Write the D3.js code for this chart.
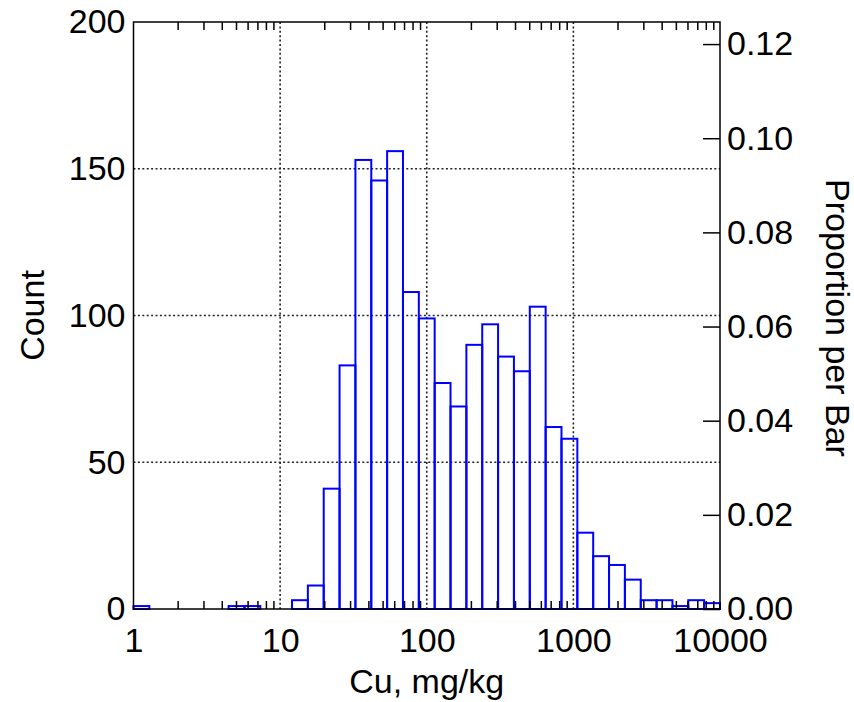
<!DOCTYPE html>
<html>
<head>
<meta charset="utf-8">
<script src="https://cdn.jsdelivr.net/npm/d3@7"></script>
<style>
  body { margin: 0; background: #fff; }
  text { font-family: "Liberation Sans", Arial, sans-serif; }
</style>
</head>
<body>
<div id="chart"></div>
<script>
// 37 equal bins on log10 scale from 1 to 10000
let nBins = 37
let logMin = 0
let logMax = 4
let counts = [1,0,0,0,0,0,1,1,0,0,3,8,41,83,153,146,156,108,99,77,69,90,97,86,81,103,62,58,26,18,15,10,3,3,1,3,2]

let xMajor = [1, 10, 100, 1000, 10000]
let xGrid = [10, 100, 1000]
let yTicks = [0, 50, 100, 150, 200]
let yGrid = [50, 100, 150]
let propTicks = [0, 0.02, 0.04, 0.06, 0.08, 0.10, 0.12]

let total = d3.sum(counts)
let edges = d3.range(nBins + 1).map(k => Math.pow(10, logMin + k * (logMax - logMin) / nBins))
let bins = counts.map((c, i) => ({lo: edges[i], hi: edges[i + 1], count: c}))

let xMinor = []
xMajor.slice(0, -1).forEach(d => { for (let m = 2; m <= 9; m++) xMinor.push(d * m) })

let W = 854, H = 702
let pLeft = 133.5, pRight = 720, pTop = 22, pBottom = 609

let svg = d3.select("#chart").append("svg")
  .attr("width", W)
  .attr("height", H)

let x = d3.scaleLog().domain([1, 10000]).range([pLeft, pRight])
let y = d3.scaleLinear().domain([0, 200]).range([pBottom, pTop])
let yProp = d3.scaleLinear().domain([0, 200 / total]).range([pBottom, pTop])

let fontSize = 34

// grid lines
svg.selectAll(".gx").data(xGrid).enter().append("line")
  .attr("x1", d => x(d)).attr("x2", d => x(d))
  .attr("y1", pTop).attr("y2", pBottom)
  .style("stroke", "#222").style("stroke-width", 1.6).style("stroke-dasharray", "2,2.4")

svg.selectAll(".gy").data(yGrid).enter().append("line")
  .attr("x1", pLeft).attr("x2", pRight)
  .attr("y1", d => y(d)).attr("y2", d => y(d))
  .style("stroke", "#222").style("stroke-width", 1.6).style("stroke-dasharray", "2,2.4")

// bars
svg.selectAll(".bar").data(bins).enter().append("rect")
  .attr("x", d => x(d.lo))
  .attr("y", d => y(d.count))
  .attr("width", d => x(d.hi) - x(d.lo))
  .attr("height", d => y(0) - y(d.count))
  .style("fill", "none")
  .style("stroke", "#0000ff")
  .style("stroke-width", 2)

function styleAxis(g) {
  g.select(".domain").remove()
  g.selectAll("line").style("stroke", "#000").style("stroke-width", 1.5)
  g.selectAll("text").style("font-size", fontSize + "px").style("fill", "#000")
    .style("font-family", "'Liberation Sans', Arial, sans-serif")
}

// bottom axis: labels + minor ticks pointing in
svg.append("g").attr("transform", `translate(0,${pBottom})`)
  .call(d3.axisBottom(x).tickValues(xMajor).tickFormat(d3.format("d")).tickSize(0).tickPadding(19))
  .call(styleAxis)
svg.append("g").attr("transform", `translate(0,${pBottom})`)
  .call(d3.axisBottom(x).tickValues(xMinor).tickFormat("").tickSizeInner(-8).tickSizeOuter(0))
  .call(styleAxis)

// top axis: minor ticks pointing in
svg.append("g").attr("transform", `translate(0,${pTop})`)
  .call(d3.axisTop(x).tickValues(xMinor).tickFormat("").tickSizeInner(-8).tickSizeOuter(0))
  .call(styleAxis)

// left axis
svg.append("g").attr("transform", `translate(${pLeft},0)`)
  .call(d3.axisLeft(y).tickValues(yTicks).tickSize(0).tickPadding(8))
  .call(styleAxis)

// right axis, proportion per bar
svg.append("g").attr("transform", `translate(${pRight},0)`)
  .call(d3.axisRight(yProp).tickValues(propTicks).tickFormat(d3.format(".2f")).tickSizeInner(-17).tickSizeOuter(0).tickPadding(7))
  .call(styleAxis)

// frame
svg.append("rect")
  .attr("x", pLeft).attr("y", pTop)
  .attr("width", pRight - pLeft).attr("height", pBottom - pTop)
  .style("fill", "none").style("stroke", "#000").style("stroke-width", 1.5)

// axis titles
svg.append("text")
  .attr("x", (pLeft + pRight) / 2).attr("y", 693)
  .attr("text-anchor", "middle")
  .style("font-size", fontSize + "px")
  .text("Cu, mg/kg")

svg.append("text")
  .attr("transform", `translate(44,${(pTop + pBottom) / 2}) rotate(-90)`)
  .attr("text-anchor", "middle")
  .style("font-size", fontSize + "px")
  .text("Count")

svg.append("text")
  .attr("transform", `translate(826,318) rotate(90)`)
  .attr("text-anchor", "middle")
  .style("font-size", fontSize + "px")
  .text("Proportion per Bar")
</script>
</body>
</html>
